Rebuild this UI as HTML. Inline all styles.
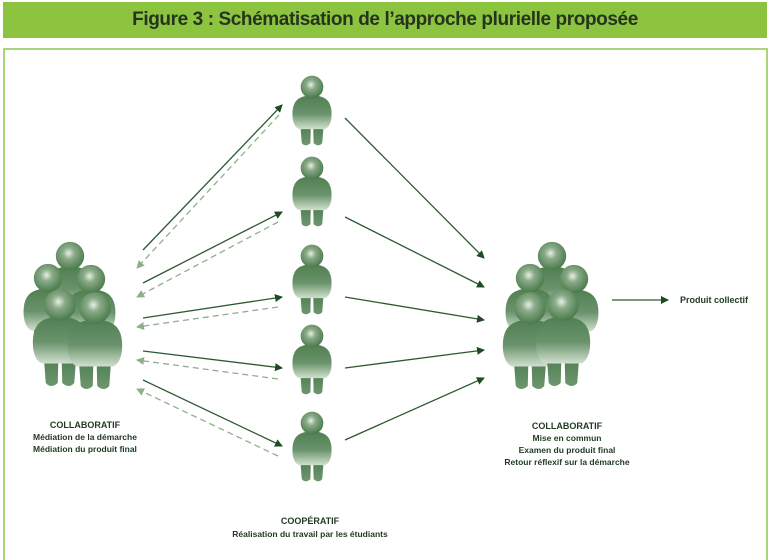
<!DOCTYPE html>
<html><head><meta charset="utf-8"><style>
html,body{margin:0;padding:0;background:#fff;}
body{width:770px;height:555px;position:relative;overflow:hidden;font-family:"Liberation Sans",sans-serif;}
.hdr{position:absolute;left:3px;top:2px;width:764px;height:36px;background:#8cc43f;color:#26331f;font-size:19px;font-weight:bold;letter-spacing:-0.4px;text-align:center;line-height:36px;font-family:"Liberation Sans Narrow","Liberation Sans",sans-serif;}
.box{position:absolute;left:3px;top:48px;width:761px;height:510px;border:2px solid #a9d67a;border-bottom:none;}
</style></head><body>
<div class="hdr">Figure 3 : Schématisation de l’approche plurielle proposée</div>
<div class="box"></div>
<svg width="770" height="555" style="position:absolute;left:0;top:0" xmlns="http://www.w3.org/2000/svg">
<defs>
<radialGradient id="hg" cx="0.45" cy="0.4" r="0.6"><stop offset="0" stop-color="#e8f0e4"/><stop offset="0.35" stop-color="#8aab88"/><stop offset="1" stop-color="#4a7a4c"/></radialGradient>
<linearGradient id="bg" x1="0" y1="0" x2="0" y2="1"><stop offset="0" stop-color="#4f7f50"/><stop offset="0.55" stop-color="#6a936c"/><stop offset="1" stop-color="#d0e0ce"/></linearGradient>
<linearGradient id="lg" x1="0" y1="0" x2="0" y2="1"><stop offset="0" stop-color="#4a7a4c"/><stop offset="1" stop-color="#6e9670"/></linearGradient>
<g id="p">
<path d="M-11,32 L-1,32 L-1.5,52 Q-6,56 -9.5,52 Z" fill="url(#lg)"/>
<path d="M1,32 L11,32 L9.5,52 Q6,56 1.5,52 Z" fill="url(#lg)"/>
<path d="M-11,10 Q-19,14 -18,28 Q-17,37 -12,39 L12,39 Q17,37 18,28 Q19,14 11,10 Q0,5 -11,10 Z" fill="url(#bg)"/>
<circle cx="0" cy="0" r="10.5" fill="url(#hg)"/>
</g>
<marker id="ah" markerWidth="8" markerHeight="8" refX="7" refY="4" orient="auto" markerUnits="userSpaceOnUse"><path d="M0,0 L8,4 L0,8 Z" fill="#1f4a22"/></marker>
<marker id="ad" markerWidth="8" markerHeight="8" refX="7" refY="4" orient="auto" markerUnits="userSpaceOnUse"><path d="M0,0 L8,4 L0,8 Z" fill="#8fae8c"/></marker>
</defs>
<use href="#p" transform="translate(312,87) scale(1.08)"/>
<use href="#p" transform="translate(312,168) scale(1.08)"/>
<use href="#p" transform="translate(312,256) scale(1.08)"/>
<use href="#p" transform="translate(312,336) scale(1.08)"/>
<use href="#p" transform="translate(312,423) scale(1.08)"/>
<use href="#p" transform="translate(70,256) scale(1.35)"/>
<use href="#p" transform="translate(48,278) scale(1.35)"/>
<use href="#p" transform="translate(91,279) scale(1.35)"/>
<use href="#p" transform="translate(60,305) scale(1.5)"/>
<use href="#p" transform="translate(95,308) scale(1.5)"/>
<use href="#p" transform="translate(552,256) scale(1.35)"/>
<use href="#p" transform="translate(530,278) scale(1.35)"/>
<use href="#p" transform="translate(574,279) scale(1.35)"/>
<use href="#p" transform="translate(530,308) scale(1.5)"/>
<use href="#p" transform="translate(563,305) scale(1.5)"/>
<g stroke="#2d5a30" stroke-width="1.3" fill="none" marker-end="url(#ah)">
<line x1="143" y1="250" x2="282" y2="105"/>
<line x1="143" y1="283" x2="282" y2="212"/>
<line x1="143" y1="318" x2="282" y2="297"/>
<line x1="143" y1="351" x2="282" y2="368"/>
<line x1="143" y1="380" x2="282" y2="446"/>
<line x1="345" y1="118" x2="484" y2="258"/>
<line x1="345" y1="217" x2="484" y2="287"/>
<line x1="345" y1="297" x2="484" y2="320"/>
<line x1="345" y1="368" x2="484" y2="350"/>
<line x1="345" y1="440" x2="484" y2="378"/>
<line x1="612" y1="300" x2="668" y2="300"/>
</g>
<g stroke="#8fae8c" stroke-width="1.3" fill="none" stroke-dasharray="6,4" marker-end="url(#ad)">
<line x1="279" y1="115" x2="137" y2="268"/>
<line x1="278" y1="222" x2="137" y2="297"/>
<line x1="278" y1="307" x2="137" y2="327"/>
<line x1="278" y1="379" x2="137" y2="360"/>
<line x1="278" y1="456" x2="137" y2="389"/>
</g>
<g font-family="Liberation Sans, sans-serif" font-size="8.5" fill="#1f3a20" text-anchor="middle" font-weight="bold">
<text x="85" y="428" font-size="9">COLLABORATIF</text>
<text x="85" y="440">Médiation de la démarche</text>
<text x="85" y="452">Médiation du produit final</text>
<text x="567" y="429" font-size="9">COLLABORATIF</text>
<text x="567" y="441">Mise en commun</text>
<text x="567" y="453">Examen du produit final</text>
<text x="567" y="465">Retour réflexif sur la démarche</text>
<text x="310" y="524" font-size="9">COOPÉRATIF</text>
<text x="310" y="537">Réalisation du travail par les étudiants</text>
<text x="714" y="303" font-size="9">Produit collectif</text>
</g>
</svg>
</body></html>
